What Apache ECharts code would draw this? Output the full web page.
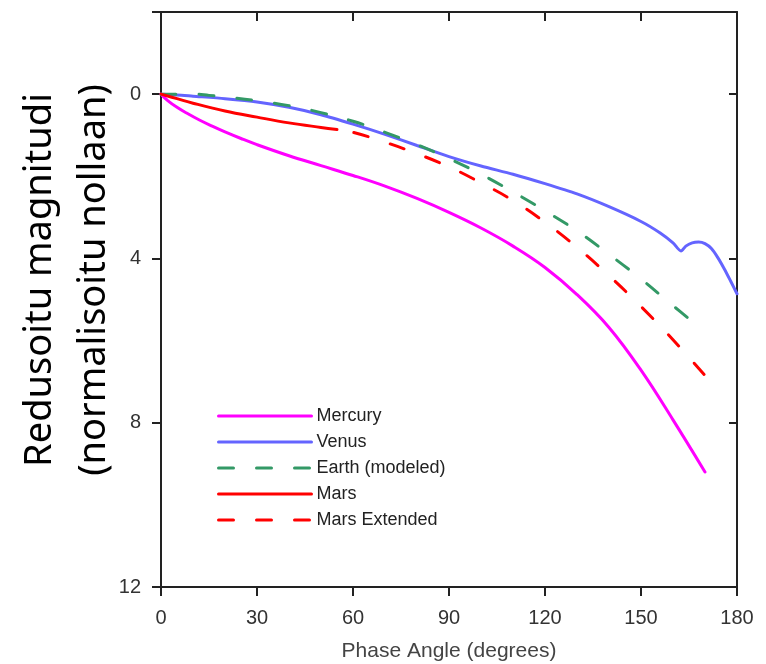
<!DOCTYPE html>
<html>
<head>
<meta charset="utf-8">
<script src="https://cdn.jsdelivr.net/npm/echarts@6/dist/echarts.min.js"></script>
<style>
html,body{margin:0;padding:0;background:#fff;}
#chart{width:766px;height:664px;}
</style>
</head>
<body>
<div id="chart"></div>
<script>
// ---- data (phase angle in degrees, reduced magnitude normalised to zero) ----
var xTicks = [0, 30, 60, 90, 120, 150, 180];
var yTickLabels = [0, 4, 8, 12];

var mercuryX = [0, 2, 5, 8, 12, 16, 20, 25, 30, 40, 50, 60, 70, 80, 90, 100, 110, 120, 130, 140, 150, 160, 170];
var mercuryY = [0, 0.15, 0.32, 0.46, 0.63, 0.78, 0.92, 1.08, 1.23, 1.5, 1.74, 1.98, 2.24, 2.54, 2.88, 3.26, 3.7, 4.22, 4.88, 5.68, 6.72, 7.93, 9.2];

var venusX = [0, 5, 10, 20, 30, 40, 50, 60, 70, 80, 90, 100, 110, 120, 130, 140, 150, 156, 160, 162.5, 164, 166, 168, 170, 172, 174, 176, 178, 180];
var venusY = [0, 0.02, 0.05, 0.11, 0.19, 0.32, 0.5, 0.73, 0.98, 1.25, 1.52, 1.75, 1.95, 2.18, 2.43, 2.74, 3.1, 3.38, 3.62, 3.82, 3.7, 3.62, 3.6, 3.64, 3.76, 3.98, 4.25, 4.55, 4.86];

var earthX = [0, 10, 15, 20, 30, 40, 50, 60, 70, 80, 90, 100, 110, 120, 130, 140, 150, 160, 167];
var earthY = [0, 0, 0.03, 0.07, 0.16, 0.28, 0.45, 0.66, 0.93, 1.23, 1.57, 1.95, 2.38, 2.84, 3.33, 3.9, 4.5, 5.15, 5.6];

var marsX = [0, 5, 10, 20, 30, 40, 50, 55];
var marsY = [0, 0.11, 0.22, 0.41, 0.56, 0.7, 0.81, 0.86];

var marsExtX = [55, 60, 70, 80, 90, 100, 110, 120, 130, 140, 150, 160, 170];
var marsExtY = [0.86, 0.93, 1.17, 1.45, 1.77, 2.16, 2.59, 3.12, 3.73, 4.42, 5.17, 5.98, 6.85];

var seriesNames = ['Mercury', 'Venus', 'Earth (modeled)', 'Mars', 'Mars Extended'];

function pairs(xs, ys) { return xs.map(function (x, i) { return [x, ys[i]]; }); }

var chart = echarts.init(document.getElementById('chart'), null, {renderer: 'canvas'});
var axisCol = '#222';
var tickFont = 'Liberation Sans';

function lineSeries(name, data, color, dashed, smooth, dashOffset) {
  return {
    name: name, type: 'line', data: data, symbol: 'none', smooth: smooth,
    xAxisIndex: 0, yAxisIndex: 0,
    lineStyle: {color: color, width: 3, type: dashed ? [15, 23] : 'solid', cap: 'round',
      dashOffset: dashOffset || 0},
    itemStyle: {color: color},
    emphasis: {disabled: true},
    animation: false
  };
}

var option = {
  animation: false,
  backgroundColor: '#fff',
  grid: {left: 161, right: 29, top: 12, bottom: 77, containLabel: false, outerBoundsMode: 'none'},
  legend: {
    orient: 'vertical', left: 212, top: 402,
    itemWidth: 93, itemHeight: 14, itemGap: 8,
    itemStyle: {opacity: 0},
    lineStyle: {width: 3, dashOffset: 0},
    textStyle: {fontFamily: tickFont, fontSize: 18, color: '#222'},
    data: seriesNames,
    selectedMode: false
  },
  xAxis: [{
    type: 'value', position: 'bottom', min: 0, max: 180, interval: 30,
    name: 'Phase Angle (degrees)', nameLocation: 'middle', nameGap: 54,
    nameTextStyle: {fontFamily: tickFont, fontSize: 21, color: '#444'},
    axisLine: {show: true, onZero: false, lineStyle: {color: axisCol, width: 2}},
    axisTick: {show: true, inside: false, length: 9, lineStyle: {color: axisCol, width: 2}},
    axisLabel: {margin: 21, fontFamily: tickFont, fontSize: 20, color: '#333',
      customValues: xTicks},
    splitLine: {show: false}
  }, {
    type: 'value', position: 'top', min: 0, max: 180, interval: 30,
    axisLine: {show: true, onZero: false, lineStyle: {color: axisCol, width: 2}},
    axisTick: {show: true, inside: true, length: 9, lineStyle: {color: axisCol, width: 2}},
    axisLabel: {show: false},
    splitLine: {show: false}
  }],
  yAxis: [{
    type: 'value', position: 'left', inverse: true, min: -2, max: 12,
    axisLine: {show: true, onZero: false, lineStyle: {color: axisCol, width: 2}},
    axisTick: {show: true, inside: false, length: 9, lineStyle: {color: axisCol, width: 2},
      customValues: [-2, 0, 4, 8, 12]},
    axisLabel: {margin: 20, fontFamily: tickFont, fontSize: 20, color: '#333',
      customValues: yTickLabels},
    splitLine: {show: false}
  }, {
    type: 'value', position: 'right', inverse: true, min: -2, max: 12,
    axisLine: {show: true, onZero: false, lineStyle: {color: axisCol, width: 2}},
    axisTick: {show: true, inside: true, length: 8, lineStyle: {color: axisCol, width: 2},
      customValues: [-2, 0, 4, 8, 12]},
    axisLabel: {show: false},
    splitLine: {show: false}
  }],
  graphic: [{
    type: 'text',
    x: 67, y: 280,
    rotation: Math.PI / 2,
    style: {
      text: 'Redusoitu magnitudi\n(normalisoitu nollaan)',
      font: '38px "Noto Sans"',
      lineHeight: 54,
      fill: '#000',
      align: 'center',
      verticalAlign: 'middle'
    }
  }],
  series: [
    lineSeries(seriesNames[0], pairs(mercuryX, mercuryY), '#ff00ff', false, 0.4),
    lineSeries(seriesNames[1], pairs(venusX, venusY), '#6464ff', false, 0.25),
    lineSeries(seriesNames[2], pairs(earthX, earthY), '#339966', true, 0.4),
    lineSeries(seriesNames[3], pairs(marsX, marsY), '#ff0000', false, 0.4),
    lineSeries(seriesNames[4], pairs(marsExtX, marsExtY), '#ff0000', true, 0.4, 21)
  ]
};
chart.setOption(option);
</script>
</body>
</html>
